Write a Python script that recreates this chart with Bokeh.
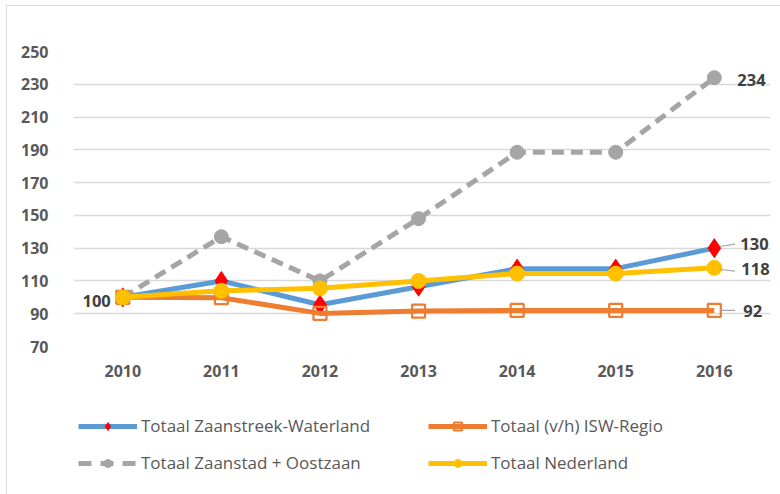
from bokeh.plotting import figure
from bokeh.layouts import column
from bokeh.models import FixedTicker, Legend, LegendItem, ColumnDataSource, Range1d, CustomJSTickFormatter
from bokeh.embed import file_html
from bokeh.resources import INLINE
from bokeh.core.properties import value

years = ["2010", "2011", "2012", "2013", "2014", "2015", "2016"]
zaanstreek = [100, 110, 95.5, 106.5, 117.5, 117.5, 130]
isw = [100, 99.8, 90.2, 91.6, 92, 92, 92]
zaanstad = [100, 137, 110, 148, 188.5, 188.5, 234]
nederland = [100, 104, 105.5, 110, 114.5, 114.5, 118]
y_ticks = [70, 90, 110, 130, 150, 170, 190, 210, 230, 250]

names = ["Totaal Zaanstreek-Waterland", "Totaal (v/h) ISW-Regio",
         "Totaal Zaanstad + Oostzaan", "Totaal Nederland"]
colors = ["#5B9BD5", "#ED7D31", "#A5A5A5", "#FFC000"]

xs = list(range(len(years)))
FONT = "Open Sans"
TXT = "#595959"

p = figure(width=780, height=390, output_backend="svg", toolbar_location=None,
           x_range=Range1d(-0.5, len(years) - 0.43), y_range=Range1d(70, 250),
           min_border_left=73, min_border_right=10, min_border_top=51, min_border_bottom=44)
p.outline_line_color = None
p.border_fill_color = None
p.background_fill_color = None
p.xgrid.grid_line_color = None
p.ygrid.grid_line_color = "#d9d9d9"
p.ygrid.grid_line_width = 1.5
p.yaxis.ticker = FixedTicker(ticks=y_ticks)
p.xaxis.ticker = FixedTicker(ticks=xs)
p.xaxis.formatter = CustomJSTickFormatter(args=dict(labels=years), code="return labels[tick] || ''")
for ax in (p.xaxis, p.yaxis):
    ax.axis_line_color = None
    ax.major_tick_line_color = None
    ax.minor_tick_line_color = None
    ax.major_label_text_font = FONT
    ax.major_label_text_font_style = "bold"
    ax.major_label_text_font_size = "16px"
    ax.major_label_text_color = TXT
p.xaxis.major_label_standoff = 12
p.yaxis.major_label_standoff = 19

src = ColumnDataSource(dict(x=xs, a=zaanstreek, b=isw, c=zaanstad, d=nederland))

l1 = p.line("x", "a", source=src, line_color=colors[0], line_width=5)
m1 = p.scatter("x", "a", source=src, marker="diamond", size=19, fill_color="#FF0000", line_color="#FF0000")
l2 = p.line("x", "b", source=src, line_color=colors[1], line_width=5)
m2 = p.scatter("x", "b", source=src, marker="square", size=13, fill_color=None, line_color=colors[1], line_width=2.2)
l3 = p.line("x", "c", source=src, line_color=colors[2], line_width=5, line_dash="12 7")
m3 = p.scatter("x", "c", source=src, marker="circle", size=14, fill_color=colors[2], line_color=colors[2])
l4 = p.line("x", "d", source=src, line_color=colors[3], line_width=5)
m4 = p.scatter("x", "d", source=src, marker="circle", size=15, fill_color=colors[3], line_color=colors[3])

last = len(years) - 1
# leader lines
lead_y0 = [zaanstreek[last] + 1, nederland[last] - 1, isw[last]]
lead_y1 = [zaanstreek[last] + 2.5, nederland[last] - 2, isw[last]]
p.segment(x0=[last + 0.06] * 3, y0=lead_y0, x1=[last + 0.21] * 3, y1=lead_y1,
          line_color="#A5A5A5", line_width=1.2)

lab_kw = dict(text_font=value(FONT), text_font_style="bold", text_font_size="16.5px",
              text_color="#404040", text_baseline="middle")
p.text(x=[last] * 4, y=[zaanstad[last], zaanstreek[last], nederland[last], isw[last]],
       text=[str(round(v)) for v in [zaanstad[last], zaanstreek[last], nederland[last], isw[last]]],
       x_offset=[23, 26, 27, 29], y_offset=[2, -4, 1, 1], text_align="left", **lab_kw)
p.text(x=[0], y=[zaanstreek[0]], text=[str(round(zaanstreek[0]))], x_offset=-12, y_offset=4,
       text_align="right", **lab_kw)
p.styles = {"box-shadow": "inset 6px 5px 0 0 #ffffff, inset 7px 6px 0 0 #d9d9d9"}

# legend strip (same series, ranges kept away from the data so only the legend shows)
lg = figure(width=780, height=104, output_backend="svg", toolbar_location=None,
            x_range=Range1d(100, 101), y_range=Range1d(1000, 1001),
            min_border_left=73, min_border_right=10, min_border_top=0, min_border_bottom=0)
lg.axis.visible = False
lg.grid.visible = False
lg.outline_line_color = None
lg.border_fill_color = None
lg.background_fill_color = None
r1 = [lg.line("x", "a", source=src, line_color=colors[0], line_width=5),
      lg.scatter("x", "a", source=src, marker="diamond", size=13, fill_color="#FF0000", line_color="#FF0000")]
r2 = [lg.line("x", "b", source=src, line_color=colors[1], line_width=5),
      lg.scatter("x", "b", source=src, marker="square", size=11, fill_color=None, line_color=colors[1], line_width=2.2)]
r3 = [lg.line("x", "c", source=src, line_color=colors[2], line_width=5, line_dash="13 9"),
      lg.scatter("x", "c", source=src, marker="circle", size=14, fill_color=colors[2], line_color=colors[2])]
r4 = [lg.line("x", "d", source=src, line_color=colors[3], line_width=5),
      lg.scatter("x", "d", source=src, marker="circle", size=12, fill_color=colors[3], line_color=colors[3])]

legend = Legend(items=[
    LegendItem(label=names[0], renderers=r1),
    LegendItem(label=names[1], renderers=r2),
    LegendItem(label=names[2], renderers=r3),
    LegendItem(label=names[3], renderers=r4),
], location=(5, 20), orientation="horizontal", ncols=2,
    glyph_width=59, glyph_height=20, label_height=20, label_standoff=4, label_width=273,
    spacing=14, padding=0, margin=0, border_line_color=None, background_fill_alpha=0,
    label_text_font=FONT, label_text_font_size="17px", label_text_color=TXT)
lg.add_layout(legend, "center")
lg.styles = {"box-shadow": "inset 6px 0 0 0 #ffffff, inset 7px 0 0 0 #d9d9d9"}

layout = column(p, lg)

open("out.html", "w").write(file_html(layout, INLINE))
